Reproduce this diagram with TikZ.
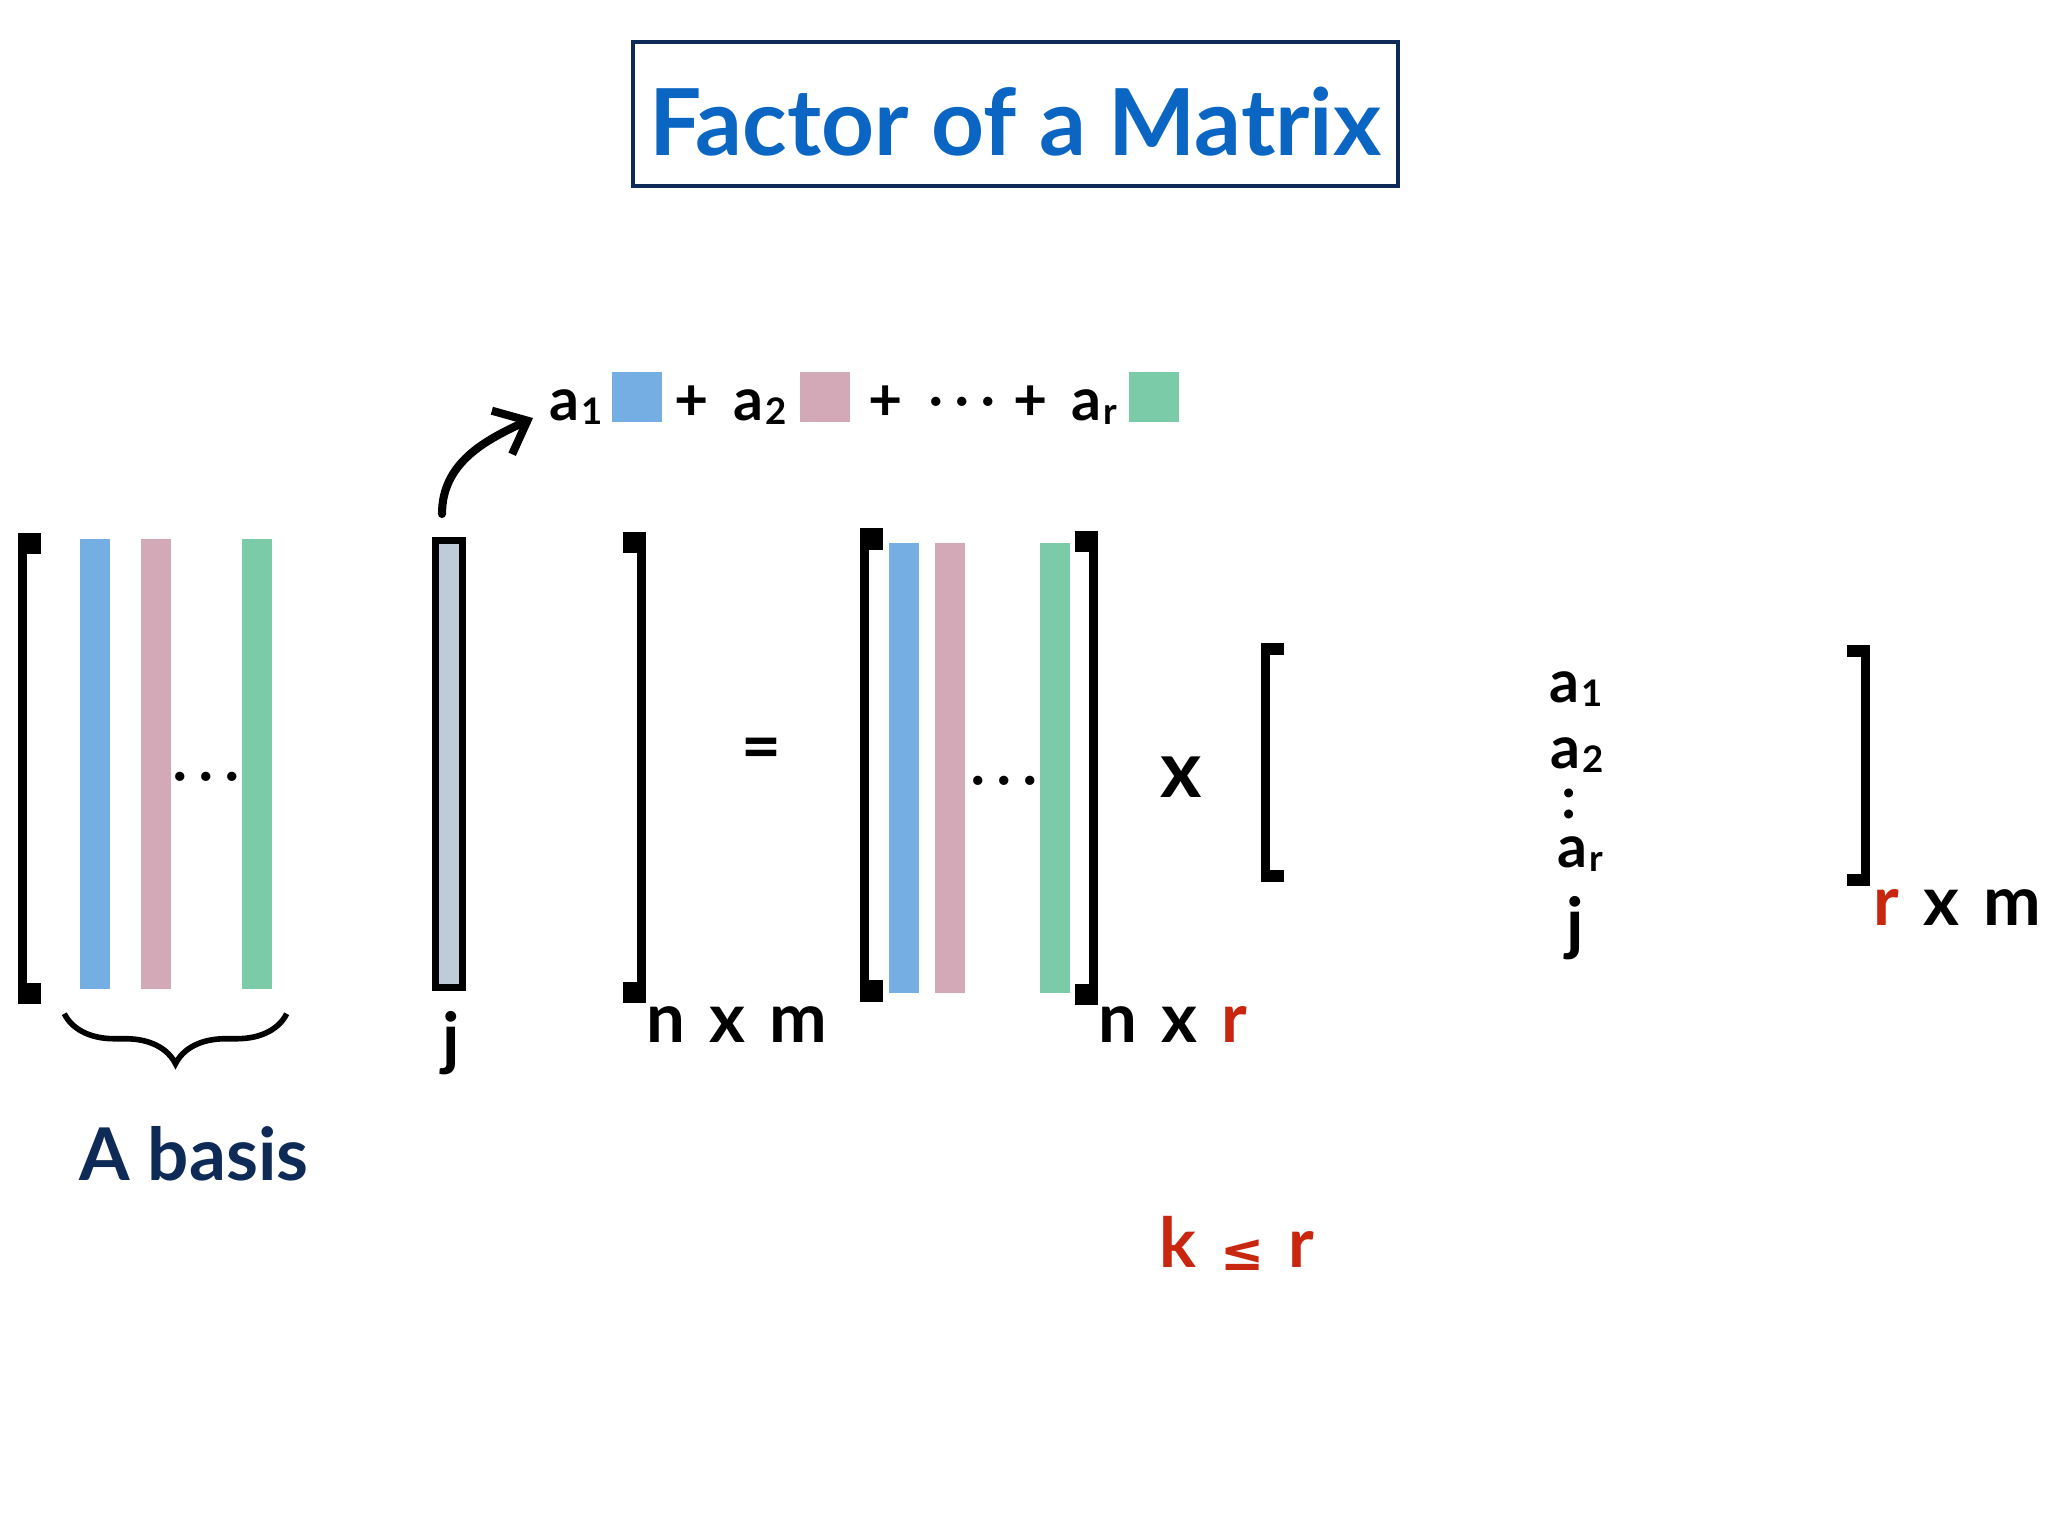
\documentclass[tikz,border=0pt]{standalone}
\usepackage{fontspec}
\setmainfont{Lato}
\newfontfamily\symfont{DejaVu Sans}
\usetikzlibrary{arrows.meta,positioning,decorations.pathreplacing}

\definecolor{colA}{RGB}{116,174,227}
\definecolor{colB}{RGB}{212,169,183}
\definecolor{colC}{RGB}{123,203,169}
\definecolor{colJ}{RGB}{189,204,216}
\definecolor{ttlblue}{RGB}{11,102,195}
\definecolor{navy}{RGB}{14,42,86}
\definecolor{redc}{RGB}{200,38,14}

% a with a subscript
\newcommand\coef[1]{a\kern.03em\raisebox{-.08em}{\scalebox{.62}{#1}}}
\newcommand\gap{\hspace{.35em}}
\newcommand\tdots{·\kern.25em·\kern.25em·}
% square brackets: outer x, top, bottom, end height
\newcommand\lbr[4]{%
  \fill (#1,#2) rectangle (#1+9,#3);
  \fill (#1,#2) rectangle (#1+23,#2+#4);
  \fill (#1,#3-#4) rectangle (#1+23,#3);}
\newcommand\rbr[4]{%
  \fill (#1-9,#2) rectangle (#1,#3);
  \fill (#1-23,#2) rectangle (#1,#2+#4);
  \fill (#1-23,#3-#4) rectangle (#1,#3);}

\tikzset{
  bar/.style={minimum width=3mm, minimum height=45mm, inner sep=0pt},
  barA/.style={bar, fill=colA},
  barB/.style={bar, fill=colB},
  barC/.style={bar, fill=colC},
  barJ/.style={draw, line width=2pt, fill=colJ, minimum width=2.7mm, minimum height=44.7mm, inner sep=0pt},
  sq/.style={minimum size=5mm, inner sep=0pt},
  lbl/.style={font=\fontsize{19.6}{22}\selectfont\bfseries, inner sep=0pt, anchor=base},
  cf/.style={font=\fontsize{16.8}{20}\selectfont\bfseries, inner sep=0pt, anchor=base},
  dts/.style={font=\fontsize{14}{16}\selectfont\bfseries, inner sep=0pt, anchor=base},
  brc/.style={decorate, decoration={brace, mirror, amplitude=5mm}, line width=1.6pt},
  arr/.style={line width=2.3pt, line cap=round, -{Straight Barb[length=2.8mm,width=4.8mm]}}
}

\begin{document}
\begin{tikzpicture}[x=0.1mm, y=-0.1mm]
  \useasboundingbox (0,0) rectangle (2048,1536);
  \node[draw=navy, line width=1.15pt, minimum width=76.5mm, minimum height=14.4mm,
        text height=8.3mm, text depth=0pt, inner sep=0pt, text=ttlblue,
        font=\fontsize{26.3}{30}\selectfont\bfseries] (title) at (1015.5,114) {Factor of a Matrix};

  % left matrix
  \lbr{18}{533}{1004}{21}
  \rbr{646}{532}{1003}{21}
  \node[barA] (b1) at (95,764) {};
  \node[barB] (p1) at (156,764) {};
  \node[barC] (g1) at (257,764) {};
  \node[dts] (d1) at (206,791) {\tdots};
  \node[barJ] (colj) at (449,764) {};
  \node[lbl] (j1) at (451,1062) {j};
  \draw[brc] ([xshift=-1.5mm,yshift=-2.4mm]b1.south west) -- ([xshift=1.4mm,yshift=-2.4mm]g1.south east);
  \node[lbl, font=\fontsize{20.7}{24}\selectfont\bfseries, text=navy] (basis) at (194,1180) {A basis};
  \node[lbl, anchor=base west] (nm) at (646,1042) {n\gap x\gap m};

  \node[lbl, anchor=center] (eq) at (761,754) {=};

  % middle matrix
  \lbr{860}{528}{1002}{22}
  \rbr{1098}{531}{1005}{21}
  \node[barA] (b2) at (904,768) {};
  \node[barB] (p2) at (950,768) {};
  \node[barC] (g2) at (1055,768) {};
  \node[dts] (d2) at (1004,795) {\tdots};
  \node[lbl, anchor=base west] (nr) at (1098,1042) {n\gap x\gap \textcolor{redc}{r}};

  \node[lbl, anchor=center, scale=1.15] (times) at (1181,777) {x};

  % right matrix
  \lbr{1261}{643}{882}{12}
  \rbr{1870}{645}{886}{12}
  \node[cf] (r1) at (1576,702) {\coef{1}};
  \node[cf] (r2) at (1577,768) {\coef{2}};
  \node[cf] (rd) at (1569,818) {:};
  \node[cf] (rr) at (1580,867) {\coef{r}};
  \node[lbl] (j2) at (1575,947) {j};
  \node[lbl, anchor=base west] (rm) at (1873,925) {\textcolor{redc}{r}\gap x\gap m};

  \node[lbl, anchor=base west, text=redc] (kr) at (1159,1267)
    {k\gap\raisebox{-.05em}{\fontsize{15}{16}\selectfont\symfont\bfseries ≤}\gap r};

  % combination of the basis columns
  \node[cf] (t1) at (576,420) {\coef{1}};
  \node[sq, fill=colA] (s1) at (637,397) {};
  \node[cf] (pl1) at (692,420) {+};
  \node[cf] (t2) at (760,420) {\coef{2}};
  \node[sq, fill=colB] (s2) at (824.5,397) {};
  \node[cf] (pl2) at (886,420) {+};
  \node[dts] (dt) at (962,416) {\tdots};
  \node[cf] (pl3) at (1031,420) {+};
  \node[cf] (tr) at (1094,420) {\coef{r}};
  \node[sq, fill=colC] (s3) at (1153.5,397) {};
  \coordinate (tip) at (533,418);
  \draw[arr] ([xshift=-0.7mm,yshift=2.3mm]colj.north) to[out=90,in=205] (tip);
\end{tikzpicture}
\end{document}
